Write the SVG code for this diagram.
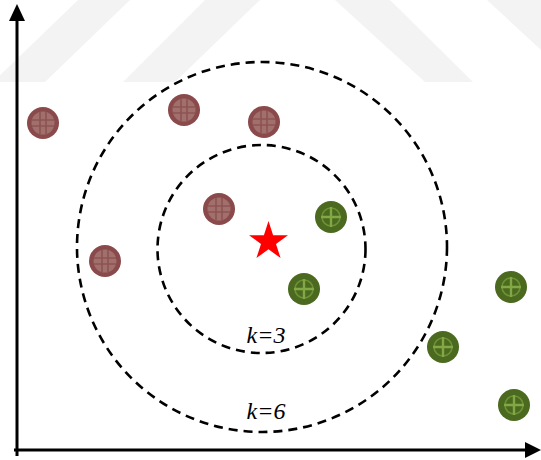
<svg xmlns="http://www.w3.org/2000/svg" width="541" height="460" viewBox="0 0 541 460">
<style>
.wm{fill:#f3f3f3}
.axis{stroke:#000;stroke-width:3;fill:none}
.ring{fill:none;stroke:#000;stroke-width:2.6;stroke-dasharray:9 6}
.lbl{font-family:"Liberation Serif","Times New Roman",serif;font-style:italic;font-size:24px;fill:#000;text-anchor:middle}
</style>
<defs>
<g id="brown">
<circle r="16" fill="#8a4a4b"/>
<circle r="11.5" fill="#a2706c"/>
<path d="M-3,-11V11M3,-11V11M-11,-3H11M-11,3H11" stroke="#8d5353" stroke-width="1.6"/>
</g>
<g id="green">
<circle r="16" fill="#4b6a1f"/>
<circle r="9" fill="none" stroke="#6e9136" stroke-width="1.6"/>
<path d="M0,-10V10M-10,0H10" stroke="#82a845" stroke-width="2.4"/>
</g>
</defs>
<rect width="541" height="460" fill="#fff"/>
<g id="watermark">
<polygon class="wm" points="78,0 130,0 45,82 -7,82"/>
<polygon class="wm" points="205,0 260,0 175,82 123,82"/>
<polygon class="wm" points="335,0 390,0 473,82 425,82"/>
<polygon class="wm" points="487,0 541,0 541,50"/>
</g>
<g id="axes">
<path class="axis" d="M17,456V18M14,450H527"/>
<polygon points="17,4 9,21 25,21" fill="#000"/>
<polygon points="541,450 525,442 525,458" fill="#000"/>
</g>
<g id="connectors">
<circle id="ring-k6" class="ring" cx="262" cy="247" r="185"/>
<circle id="ring-k3" class="ring" cx="261.5" cy="249" r="104"/>
</g>
<g id="p1"><use href="#brown" x="43" y="123"/></g>
<g id="p2"><use href="#brown" x="184" y="110"/></g>
<g id="p3"><use href="#brown" x="264" y="122"/></g>
<g id="p4"><use href="#brown" x="219" y="209"/></g>
<g id="p5"><use href="#brown" x="105" y="261"/></g>
<g id="q1"><use href="#green" x="331" y="217"/></g>
<g id="q2"><use href="#green" x="304" y="289"/></g>
<g id="q3"><use href="#green" x="511" y="287"/></g>
<g id="q4"><use href="#green" x="443" y="347"/></g>
<g id="q5"><use href="#green" x="514" y="405"/></g>
<g id="query"><polygon fill="#ff0000" points="268.5,221 273.1,235.2 288,235.2 276,243.9 280.6,258.1 268.5,249.3 256.4,258.1 261,243.9 249,235.2 263.9,235.2"/></g>
<g id="labels">
<text class="lbl" x="266" y="343">k=3</text>
<text class="lbl" x="266" y="419">k=6</text>
</g>
</svg>
